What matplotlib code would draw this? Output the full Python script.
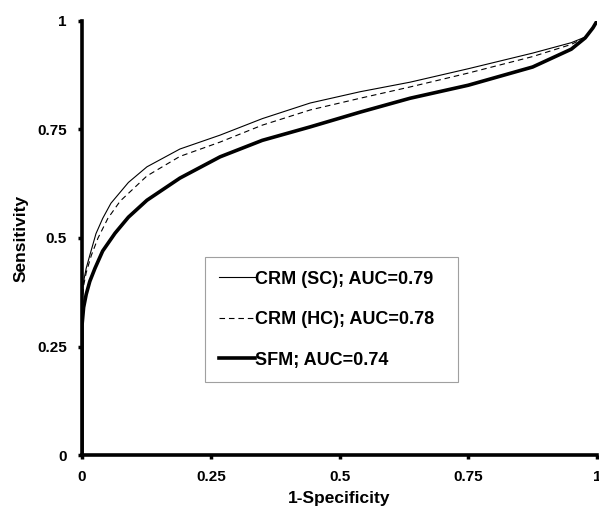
import matplotlib.pyplot as plt

# valeurs (1-spécificité, sensibilité)
sc_x = [0, 0, 0.003, 0.008, 0.015, 0.027, 0.04, 0.056, 0.09, 0.126, 0.19, 0.268, 0.35, 0.443,
        0.54, 0.637, 0.75, 0.875, 0.95, 0.977, 0.992, 1.0]
sc_y = [0, 0.36, 0.40, 0.43, 0.46, 0.51, 0.545, 0.58, 0.628, 0.664, 0.705, 0.737, 0.775, 0.811,
        0.837, 0.859, 0.89, 0.926, 0.950, 0.963, 0.984, 1.0]

hc_x = [0, 0, 0.003, 0.008, 0.018, 0.031, 0.05, 0.074, 0.126, 0.19, 0.268, 0.35, 0.443, 0.54,
        0.637, 0.75, 0.875, 0.95, 0.977, 0.992, 1.0]
hc_y = [0, 0.35, 0.39, 0.42, 0.46, 0.50, 0.545, 0.585, 0.643, 0.688, 0.721, 0.76, 0.795, 0.822,
        0.848, 0.88, 0.918, 0.946, 0.962, 0.984, 1.0]

sfm_x = [0, 0, 0.003, 0.008, 0.015, 0.025, 0.04, 0.064, 0.09, 0.126, 0.19, 0.268, 0.35, 0.443,
         0.54, 0.637, 0.75, 0.875, 0.95, 0.977, 0.992, 1.0]
sfm_y = [0, 0.30, 0.34, 0.37, 0.40, 0.43, 0.47, 0.511, 0.548, 0.587, 0.638, 0.687, 0.725, 0.756,
         0.79, 0.822, 0.852, 0.894, 0.935, 0.961, 0.984, 1.0]

ticks = [0, 0.25, 0.5, 0.75, 1]
tick_labels = ["0", "0.25", "0.5", "0.75", "1"]

plt.rcParams['font.family'] = ['Liberation Sans', 'DejaVu Sans']
plt.rcParams['font.weight'] = 'bold'

fig = plt.figure(figsize=(5.99, 5.08), dpi=100)
ax = fig.add_axes([0.137, 0.1043, 0.8597, 0.8544])

ax.plot(sc_x, sc_y, color='black', lw=0.8, label="CRM (SC); AUC=0.79")
ax.plot(hc_x, hc_y, color='black', lw=0.8, linestyle=(0, (5, 3.5)), label="CRM (HC); AUC=0.78")
ax.plot(sfm_x, sfm_y, color='black', lw=2.6, label="SFM; AUC=0.74")

ax.set_xlim(0, 1)
ax.set_ylim(0, 1)
ax.set_xticks(ticks)
ax.set_xticklabels(tick_labels)
ax.set_yticks(ticks)
ax.set_yticklabels(tick_labels)
ax.tick_params(direction='out', length=3, width=2.5, labelsize=11, pad=8)

for s in ['top', 'right']:
    ax.spines[s].set_visible(False)
for s in ['left', 'bottom']:
    ax.spines[s].set_linewidth(2.6)

ax.set_xlabel("1-Specificity", fontsize=12.5, fontweight='bold', labelpad=5)
ax.set_ylabel("Sensitivity", fontsize=12.5, fontweight='bold', labelpad=6)

leg = ax.legend(loc='upper left', bbox_to_anchor=(0.2388, 0.0, 0.4913, 0.456),
                mode='expand', fontsize=13,
                frameon=True, fancybox=False, edgecolor='#888888',
                handlelength=2.0, handletextpad=0.0, labelspacing=1.3,
                borderpad=0.75, borderaxespad=0)
leg.get_frame().set_linewidth(0.8)
for t in leg.get_texts():
    t.set_fontweight('bold')

plt.savefig("out.png", dpi=100)
